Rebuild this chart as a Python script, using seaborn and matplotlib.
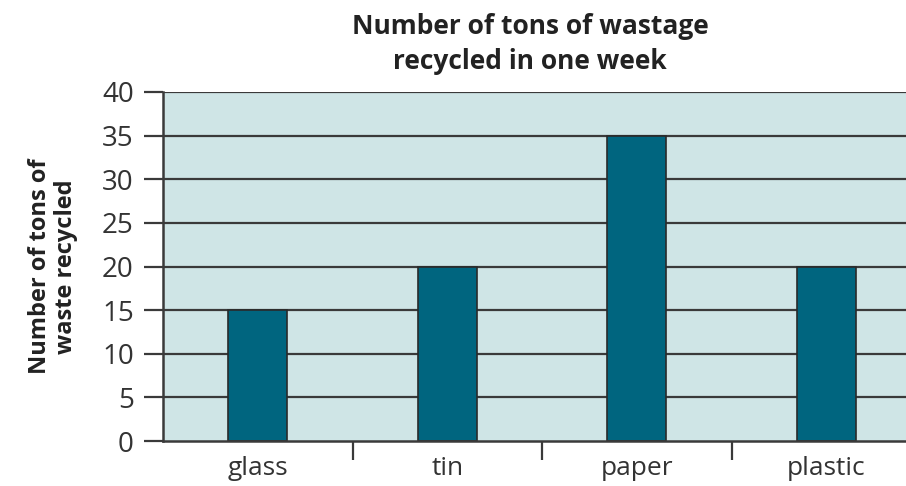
import numpy as np
import pandas as pd
import matplotlib
matplotlib.use("Agg")
import matplotlib.pyplot as plt
import seaborn as sns

materials = ["glass", "tin", "paper", "plastic"]
tons = [15, 20, 35, 20]
y_ticks = [0, 5, 10, 15, 20, 25, 30, 35, 40]

df = pd.DataFrame({"material": materials, "tons": tons})

sns.set_style("white")
plt.rcParams["font.family"] = ["Open Sans", "DejaVu Sans"]

fig = plt.figure(figsize=(9.06, 4.86), dpi=100)
ax = fig.add_axes([163 / 906, 1 - 441 / 486, 743 / 906, (441 - 92) / 486])
ax.set_facecolor("#cfe5e6")

# horizontal grid lines
for t in y_ticks[1:]:
    ax.axhline(t, color="#3a3a3a", lw=1.6, zorder=1)

sns.barplot(data=df, x="material", y="tons", color="#00657f", width=0.31,
            edgecolor="#2a2a2a", linewidth=1.2, saturation=1, ax=ax, zorder=2)

ax.set_ylim(0, 40)
ax.set_xlim(-0.5, -0.5 + 743 / 189.5)
ax.set_yticks(y_ticks)
ax.set_yticklabels([str(t) for t in y_ticks], fontsize=20, color="#333333")
ax.tick_params(axis="y", length=14, width=1.6, color="#3a3a3a", pad=7, left=True)
ax.tick_params(axis="x", which="major", length=0, labelsize=19, labelcolor="#333333", pad=11)
ax.set_xticks([0.5, 1.5, 2.5], minor=True)
ax.tick_params(axis="x", which="minor", length=14, width=1.6, color="#3a3a3a", bottom=True, direction="out")

for side in ["top", "right"]:
    ax.spines[side].set_visible(False)
ax.spines["left"].set_color("#3a3a3a")
ax.spines["left"].set_linewidth(1.8)
ax.spines["bottom"].set_color("#3a3a3a")
ax.spines["bottom"].set_linewidth(1.8)

ax.set_xlabel("")
ax.set_ylabel("Number of tons of\nwaste recycled", fontsize=17, fontweight="bold",
              color="#222222", linespacing=1.1, va="center")
ax.yaxis.set_label_coords(-110 / 743, 0.5)
fig.text(530 / 906, 1 - 44 / 486, "Number of tons of wastage\nrecycled in one week",
         ha="center", va="center", fontsize=19, fontweight="bold", color="#222222",
         linespacing=1.4)

fig.savefig("out.png", dpi=100)
